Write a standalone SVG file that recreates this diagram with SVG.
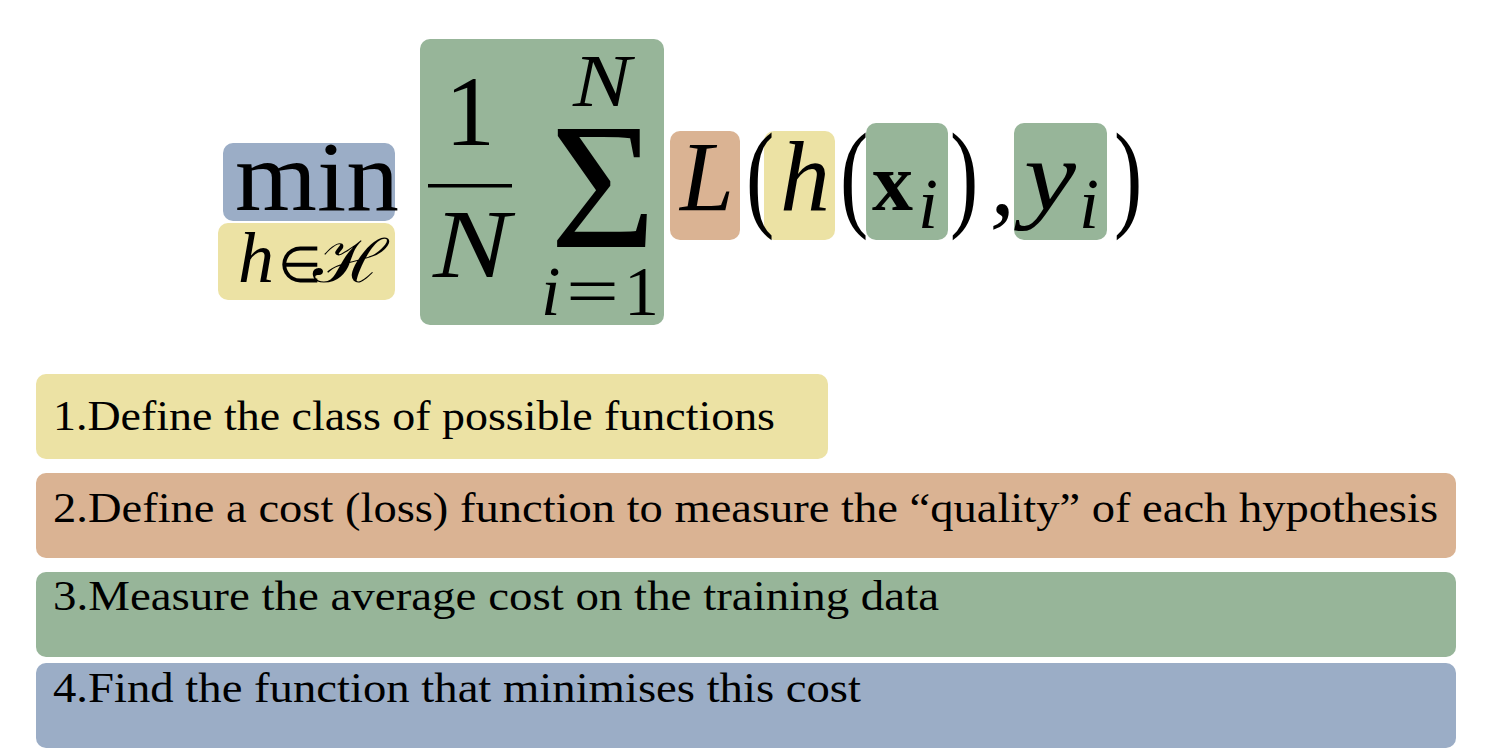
<svg xmlns="http://www.w3.org/2000/svg" width="1491" height="753" viewBox="0 0 1491 753">
<style>
.yel{fill:#ece2a4}.org{fill:#dab393}.grn{fill:#97b599}.blu{fill:#9badc6}
.m{font-family:"Liberation Serif","Times New Roman",serif;fill:#000}
.it{font-style:italic}
.st{font-family:"Liberation Serif","Times New Roman",serif;font-size:43px;fill:#000}
</style>
<rect width="1491" height="753" fill="#fff"/>
<g id="formula">
  <g id="min-box">
    <rect class="blu" x="223" y="143" width="172" height="78" rx="10"/>
    <text class="m" x="235" y="210" font-size="100" textLength="164" lengthAdjust="spacingAndGlyphs">min</text>
  </g>
  <g id="h-in-H">
    <rect class="yel" x="218" y="223" width="177" height="77" rx="10"/>
    <text class="m it" x="238" y="282" font-size="72">h</text>
    <text class="m" x="278" y="282" font-size="50" font-family="DejaVu Serif">∈</text>
    <text class="m" x="313" y="282" font-size="60" font-family="DejaVu Serif" textLength="74" lengthAdjust="spacingAndGlyphs">ℋ</text>
  </g>
  <g id="average-sum">
    <rect class="grn" x="420" y="39" width="244" height="286" rx="10"/>
    <text class="m" x="470" y="145" font-size="100" text-anchor="middle">1</text>
    <rect x="428" y="184" width="84" height="3.5" fill="#000"/>
    <text class="m it" x="433" y="277" font-size="98" textLength="77" lengthAdjust="spacingAndGlyphs">N</text>
    <text class="m it" x="573" y="106" font-size="74" textLength="58" lengthAdjust="spacingAndGlyphs">N</text>
    <text class="m" x="550" y="247" font-size="180" textLength="106" lengthAdjust="spacingAndGlyphs">Σ</text>
    <text class="m it" x="541" y="315" font-size="70">i</text>
    <text class="m" x="566" y="315" font-size="70" textLength="53" lengthAdjust="spacingAndGlyphs">=</text>
    <text class="m" x="624" y="315" font-size="70">1</text>
  </g>
  <g id="loss">
    <rect class="org" x="670" y="131" width="70" height="109" rx="10"/>
    <text class="m it" x="680" y="210" font-size="100" textLength="54" lengthAdjust="spacingAndGlyphs">L</text>
  </g>
  <g id="hypothesis">
    <rect class="yel" x="764" y="131" width="71" height="109" rx="10"/>
    <text class="m it" x="780" y="210" font-size="100">h</text>
  </g>
  <g id="input">
    <rect class="grn" x="866" y="123" width="82" height="117" rx="10"/>
    <text class="m" x="872" y="210" font-size="82" font-weight="bold">x</text>
    <text class="m it" x="918" y="228" font-size="72">i</text>
  </g>
  <g id="target">
    <rect class="grn" x="1014" y="123" width="93" height="117" rx="10"/>
    <text class="m it" x="1024" y="210" font-size="100" textLength="52" lengthAdjust="spacingAndGlyphs">y</text>
    <text class="m it" x="1079" y="228" font-size="72">i</text>
  </g>
  <g id="delims">
    <text class="m" font-size="118" transform="translate(746,215) scale(0.72,1)">(</text>
    <text class="m" font-size="118" transform="translate(840,215) scale(0.72,1)">(</text>
    <text class="m" font-size="118" transform="translate(950,215) scale(0.72,1)">)</text>
    <text class="m" font-size="118" transform="translate(1114,215) scale(0.72,1)">)</text>
    <text class="m it" x="990" y="214" font-size="100">,</text>
  </g>
</g>
<g id="steps">
  <g id="step1">
    <rect class="yel" x="36" y="374" width="792" height="85" rx="10"/>
    <text class="st" x="53" y="430" textLength="722" lengthAdjust="spacingAndGlyphs">1.Define the class of possible functions</text>
  </g>
  <g id="step2">
    <rect class="org" x="36" y="473" width="1420" height="85" rx="10"/>
    <text class="st" x="53" y="522" textLength="1385" lengthAdjust="spacingAndGlyphs">2.Define a cost (loss) function to measure the “quality” of each hypothesis</text>
  </g>
  <g id="step3">
    <rect class="grn" x="36" y="572" width="1420" height="85" rx="10"/>
    <text class="st" x="53" y="610" textLength="886" lengthAdjust="spacingAndGlyphs">3.Measure the average cost on the training data</text>
  </g>
  <g id="step4">
    <rect class="blu" x="36" y="663" width="1420" height="85" rx="10"/>
    <text class="st" x="53" y="702" textLength="808" lengthAdjust="spacingAndGlyphs">4.Find the function that minimises this cost</text>
  </g>
</g>
</svg>
